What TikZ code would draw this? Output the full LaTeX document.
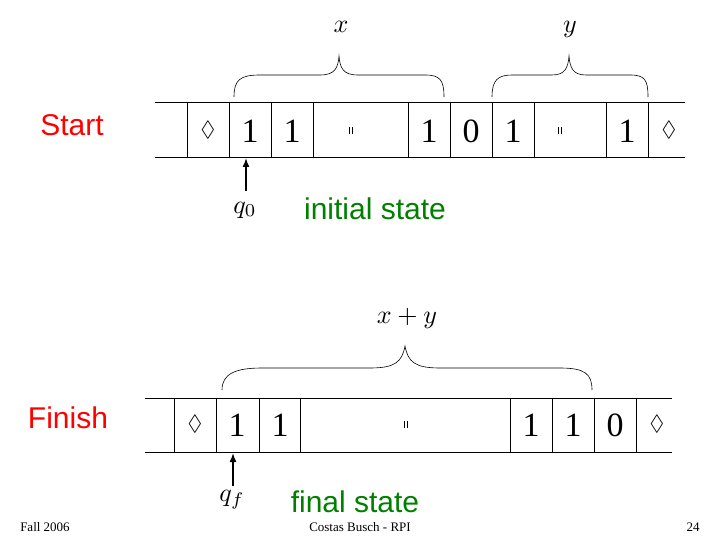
\documentclass[tikz,border=0pt]{standalone}
\usepackage{fontspec}
\usepackage{amssymb}
\usetikzlibrary{arrows.meta}
\setmainfont{Liberation Serif}
\newfontfamily\lab{Liberation Sans}
\begin{document}
\begin{tikzpicture}[x=1pt,y=-1pt,
  tape/.style={line width=0.8pt},
  sym/.style={font=\fontsize{34}{34}\selectfont},
  dia/.style={scale=2.2},
  mth/.style={scale=2.6},
  br/.style={line width=0.6pt},
  lbl/.style={font=\lab\fontsize{30}{30}\selectfont},
  foot/.style={font=\fontsize{13}{13}\selectfont},
  arr/.style={-{Latex[length=9pt,width=7pt]},line width=1.5pt}]
\useasboundingbox (0,0) rectangle (720,540);
% top tape
\draw[tape] (155,102) -- (685,102) (155,157) -- (685,157);
\foreach \x in {187,229,271,313,408,450,492,534,606,648}
  \draw[tape] (\x,102) -- (\x,157);
\node[dia] (t0) at (208,130) {$\Diamond$};
\node[sym] (t1) at (250,131) {1};
\node[sym] (t2) at (292,131) {1};
\node (t3) at (350,131) {};
\draw (349,127) -- (349,134) (352,127) -- (352,134);
\node[sym] (t4) at (429,131) {1};
\node[sym] (t5) at (471,131) {0};
\node[sym] (t6) at (513,131) {1};
\node (t7) at (559,131) {};
\draw (558,127) -- (558,134) (561,127) -- (561,134);
\node[sym] (t8) at (627,131) {1};
\node[dia] (t9) at (669,130) {$\Diamond$};
% braces top
\draw[br] (234,97) .. controls (234,80) and (240,75) .. (260,75) -- (320,75) .. controls (335,75) and (338,68) .. (339,56)
          .. controls (340,68) and (343,75) .. (358,75) -- (425,75) .. controls (440,75) and (444,80) .. (444,97);
\draw[br] (492,97) .. controls (492,80) and (498,75) .. (512,75) -- (552,75) .. controls (565,75) and (568,68) .. (569,56)
          .. controls (570,68) and (573,75) .. (586,75) -- (630,75) .. controls (645,75) and (648,80) .. (648,97);
\node[mth] (xl) at (341,27) {$x$};
\node[mth] (yl) at (570,29) {$y$};
\node[lbl,text=red] (start) at (72,125) {Start};
\coordinate (a1) at (246,191);
\draw[arr] (a1) -- (246,158);
\node[mth] (q0) at (245,210) {$q_0$};
\node[lbl,text=green!50!black] (init) at (375,209) {initial state};
% bottom tape
\draw[tape] (145,398) -- (672,398) (145,452) -- (672,452);
\foreach \x in {174,216,259,300,510,552,594,636}
  \draw[tape] (\x,398) -- (\x,452);
\node[dia] (b0) at (195,424) {$\Diamond$};
\node[sym] (b1) at (237,425) {1};
\node[sym] (b2) at (280,425) {1};
\node (b3) at (405,425) {};
\draw (404,421) -- (404,428) (407,421) -- (407,428);
\node[sym] (b4) at (531,425) {1};
\node[sym] (b5) at (573,425) {1};
\node[sym] (b6) at (615,425) {0};
\node[dia] (b7) at (657,424) {$\Diamond$};
\draw[br] (222,390) .. controls (222,374) and (235,368) .. (262,368) -- (370,368) .. controls (395,368) and (402,362) .. (405,346)
          .. controls (408,362) and (415,368) .. (440,368) -- (560,368) .. controls (585,368) and (592,374) .. (592,390);
\node[mth] (xy) at (407,318) {$x+y$};
\node[lbl,text=red] (finish) at (68,418) {Finish};
\coordinate (a2) at (233,486);
\draw[arr] (a2) -- (233,453);
\node[mth] (qf) at (232,500) {$q_f$};
\node[lbl,text=green!50!black] (fin) at (355,502) {final state};
\node[foot] (f1) at (45,527) {Fall 2006};
\node[foot] (f2) at (360,527) {Costas Busch - RPI};
\node[foot] (f3) at (693,527) {24};
\end{tikzpicture}
\end{document}
